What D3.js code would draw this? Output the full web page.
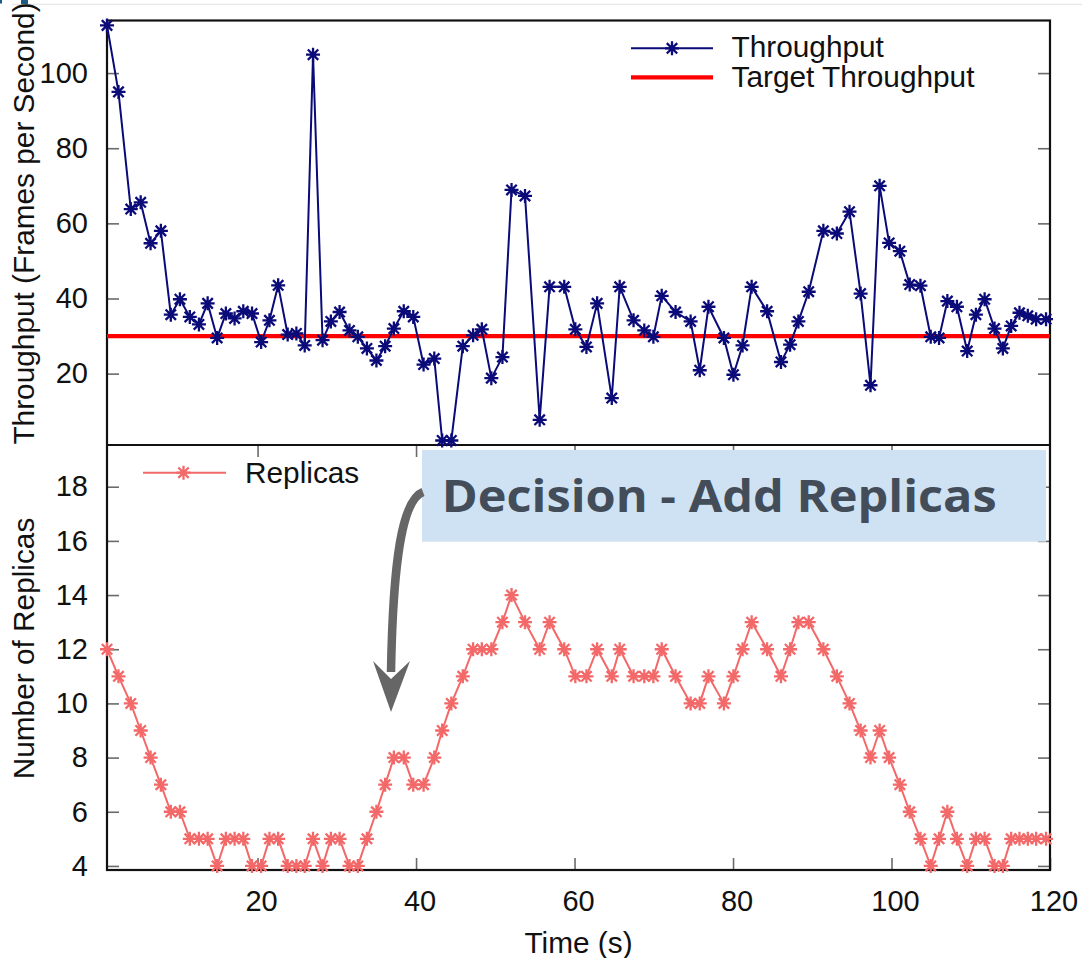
<!DOCTYPE html>
<html>
<head>
<meta charset="utf-8">
<script src="https://cdn.jsdelivr.net/npm/d3@7"></script>
<style>
  html, body { margin: 0; padding: 0; background: #fff; }
  svg { display: block; }
</style>
</head>
<body>
<svg id="chart" width="1082" height="958"></svg>
<script>
// ---------------- DATA ----------------
const times = [1, 2.45, 4, 5.25, 6.5, 7.8, 9.05, 10.2, 11.45, 12.6, 13.7, 14.9, 16, 17.1, 18.2, 19.3, 20.45, 21.5, 22.6, 23.8,
  24.9, 25.95, 27, 28.2, 29.25, 30.35, 31.6, 32.65, 33.8, 35, 36.1, 37.2, 38.45, 39.65, 40.95, 42.3, 43.3, 44.45, 45.9, 47.2,
  48.3, 49.5, 50.9, 52.05, 53.75, 55.6, 56.85, 58.7, 60.1, 61.5, 62.85, 64.7, 65.7, 67.45, 68.8, 69.95, 71, 72.75, 74.65, 75.8,
  76.9, 78.85, 80.05, 81.2, 82.35, 84.3, 86.05, 87.2, 88.25, 89.55, 91.4, 93.1, 94.7, 96.1, 97.35, 98.5, 99.7, 101.05, 102.3, 103.65,
  104.95, 106, 107.05, 108.25, 109.55, 110.65, 111.75, 113, 114.05, 115.1, 116.15, 117.2, 118.25, 119.5];

const throughput = [112.7, 95, 63.8, 65.6, 54.7, 58, 35.7, 39.8, 35.1, 33.1, 38.7, 29.5, 36, 34.7, 36.6, 36, 28.4, 34.2, 43.5, 30.4,
  30.7, 27.5, 104.9, 28.9, 33.9, 36.4, 31.5, 29.8, 26.7, 23.5, 27.3, 32, 36.6, 35.1, 22.4, 24, 2.2, 2.2, 27.3, 30.2,
  31.8, 18.8, 24.4, 68.9, 67.3, 7.7, 43.1, 43.1, 31.8, 27.1, 38.7, 13.5, 43.1, 34.2, 31.5, 29.8, 40.7, 36.4, 33.9, 20.9,
  37.8, 29.5, 19.7, 27.5, 43.1, 36.6, 23.1, 27.7, 33.9, 41.8, 58, 57.3, 63.1, 41.3, 16.9, 70, 54.8, 52.6, 43.7, 43.4,
  29.8, 29.5, 39.3, 37.8, 26, 35.7, 39.8, 32, 26.7, 32.7, 36.2, 35.4, 34.5, 34.5];

const replicas = [12, 11, 10, 9, 8, 7, 6, 6, 5, 5, 5, 4, 5, 5, 5, 4, 4, 5, 5, 4,
  4, 4, 5, 4, 5, 5, 4, 4, 5, 6, 7, 8, 8, 7, 7, 8, 9, 10, 11, 12,
  12, 12, 13, 14, 13, 12, 13, 12, 11, 11, 12, 11, 12, 11, 11, 11, 12, 11, 10, 10,
  11, 10, 11, 12, 13, 12, 11, 12, 13, 13, 12, 11, 10, 9, 8, 9, 8, 7, 6, 5,
  4, 5, 6, 5, 4, 5, 5, 4, 4, 5, 5, 5, 5, 5];

const targetThroughput = 30;

const xTicks = [20, 40, 60, 80, 100, 120];
const yTicksTop = [20, 40, 60, 80, 100];
const yTicksBottom = [4, 6, 8, 10, 12, 14, 16, 18];

const seriesNames = ["Throughput", "Target Throughput", "Replicas"];
const xTitle = "Time (s)";
const yTitleTop = "Throughput (Frames per Second)";
const yTitleBottom = "Number of Replicas";
const annotationText = "Decision - Add Replicas";

// ---------------- LAYOUT ----------------
const L = 107, R = 1050, T = 20.5, M = 445, B = 870;
const FONT = "'Liberation Sans', Arial, Helvetica, sans-serif";
const FS = 29;      // tick labels
const FS2 = 29.8;   // titles & legend
const navy = "#0a0a78";
const salmon = "#f36868";
const red = "#ff0000";
const tickColor = "#6a6a6a";

const svg = d3.select("#chart");
svg.append("rect").attr("width", 1082).attr("height", 958).attr("fill", "#fff");

// slide artefacts at top
svg.append("line").attr("x1", 12).attr("x2", 1082).attr("y1", 4.3).attr("y2", 4.3)
  .attr("stroke", "#e2e2e2").attr("stroke-width", 1);
svg.append("rect").attr("x", 0).attr("y", 0).attr("width", 2).attr("height", 3.5).attr("fill", "#1f5b87");
svg.append("rect").attr("x", 21).attr("y", 0).attr("width", 7).attr("height", 4).attr("fill", "#1f5b87");

const x = d3.scaleLinear().domain([1, 120]).range([L, R]);
const yTop = d3.scaleLinear().domain([1, 114]).range([M, T]);
const yBot = d3.scaleLinear().domain([3.85, 19.54]).range([B, M]);

function styleAxis(g, showLabels) {
  g.select(".domain").remove();
  g.selectAll(".tick line").attr("stroke", tickColor).attr("stroke-width", 1.6);
  g.selectAll(".tick text").attr("font-family", FONT).attr("font-size", FS).attr("fill", "#111");
  if (!showLabels) g.selectAll(".tick text").remove();
}

// top panel axes
svg.append("g").attr("transform", `translate(${L},0)`)
  .call(d3.axisLeft(yTop).tickValues(yTicksTop).tickSize(-12).tickPadding(19))
  .call(g => styleAxis(g, true));
svg.append("g").attr("transform", `translate(${R},0)`)
  .call(d3.axisRight(yTop).tickValues(yTicksTop).tickSize(-12))
  .call(g => styleAxis(g, false));

// bottom panel axes
svg.append("g").attr("transform", `translate(${L},0)`)
  .call(d3.axisLeft(yBot).tickValues(yTicksBottom).tickSize(-12).tickPadding(19))
  .call(g => styleAxis(g, true));
svg.append("g").attr("transform", `translate(${R},0)`)
  .call(d3.axisRight(yBot).tickValues(yTicksBottom).tickSize(-12))
  .call(g => styleAxis(g, false));
const xb = svg.append("g").attr("transform", `translate(0,${B})`)
  .call(d3.axisBottom(x).tickValues(xTicks).tickSize(-12).tickPadding(20))
  .call(g => styleAxis(g, true));
xb.selectAll(".tick text").attr("dx", 3.5);
svg.append("g").attr("transform", `translate(0,${M})`)
  .call(d3.axisTop(x).tickValues(xTicks.filter(v => v < 120)).tickSize(-12))
  .call(g => styleAxis(g, false));

// frames
svg.append("rect").attr("x", L).attr("y", T).attr("width", R - L).attr("height", B - T)
  .attr("fill", "none").attr("stroke", "#111").attr("stroke-width", 2.2);
svg.append("line").attr("x1", L).attr("x2", R).attr("y1", M).attr("y2", M)
  .attr("stroke", "#111").attr("stroke-width", 2.2);

// star marker
const star = "M-7,0H7M0,-7V7M-5.2,-5.2L5.2,5.2M-5.2,5.2L5.2,-5.2";
const MSW = 2.3;

// target line
svg.append("line").attr("x1", L).attr("x2", R)
  .attr("y1", yTop(targetThroughput)).attr("y2", yTop(targetThroughput))
  .attr("stroke", red).attr("stroke-width", 4.2);

// throughput series
const tpData = times.map((t, i) => ({ t, v: throughput[i] }));
svg.append("path").datum(tpData)
  .attr("fill", "none").attr("stroke", navy).attr("stroke-width", 2)
  .attr("d", d3.line().x(d => x(d.t)).y(d => yTop(d.v)));
svg.append("g").selectAll("path").data(tpData).join("path")
  .attr("d", star).attr("transform", d => `translate(${x(d.t)},${yTop(d.v)})`)
  .attr("stroke", navy).attr("stroke-width", MSW).attr("fill", "none");

// replicas series
const rpData = times.map((t, i) => ({ t, v: replicas[i] }));
svg.append("path").datum(rpData)
  .attr("fill", "none").attr("stroke", salmon).attr("stroke-width", 2)
  .attr("d", d3.line().x(d => x(d.t)).y(d => yBot(d.v)));
svg.append("g").selectAll("path").data(rpData).join("path")
  .attr("d", star).attr("transform", d => `translate(${x(d.t)},${yBot(d.v)})`)
  .attr("stroke", salmon).attr("stroke-width", MSW).attr("fill", "none");

// legends
const lg = svg.append("g");
lg.append("line").attr("x1", 631).attr("x2", 713).attr("y1", 48.3).attr("y2", 48.3)
  .attr("stroke", navy).attr("stroke-width", 2);
lg.append("path").attr("d", star).attr("transform", "translate(672,48.3)")
  .attr("stroke", navy).attr("stroke-width", MSW).attr("fill", "none");
lg.append("line").attr("x1", 631).attr("x2", 713).attr("y1", 77.3).attr("y2", 77.3)
  .attr("stroke", red).attr("stroke-width", 4.2);
lg.append("text").attr("x", 731.5).attr("y", 56.7).text(seriesNames[0])
  .attr("font-family", FONT).attr("font-size", FS2).attr("fill", "#111");
lg.append("text").attr("x", 731.5).attr("y", 87.3).text(seriesNames[1])
  .attr("font-family", FONT).attr("font-size", FS2).attr("fill", "#111");

lg.append("line").attr("x1", 143).attr("x2", 226).attr("y1", 472.7).attr("y2", 472.7)
  .attr("stroke", salmon).attr("stroke-width", 2);
lg.append("path").attr("d", star).attr("transform", "translate(183.5,472.7)")
  .attr("stroke", salmon).attr("stroke-width", MSW).attr("fill", "none");
lg.append("text").attr("x", 245).attr("y", 482.7).text(seriesNames[2])
  .attr("font-family", FONT).attr("font-size", FS2).attr("fill", "#111");

// axis titles
svg.append("text").attr("transform", "translate(34,223.5) rotate(-90)")
  .attr("text-anchor", "middle").attr("font-family", FONT).attr("font-size", FS2).attr("fill", "#111")
  .text(yTitleTop);
svg.append("text").attr("transform", "translate(34,648.5) rotate(-90)")
  .attr("text-anchor", "middle").attr("font-family", FONT).attr("font-size", FS2).attr("fill", "#111")
  .text(yTitleBottom);
svg.append("text").attr("x", (L + R) / 2).attr("y", 953)
  .attr("text-anchor", "middle").attr("font-family", FONT).attr("font-size", FS2).attr("fill", "#111")
  .text(xTitle);

// annotation
const ann = svg.append("g");
ann.append("rect").attr("x", 422).attr("y", 450).attr("width", 624).attr("height", 91.7)
  .attr("fill", "#cfe2f3");
ann.append("text").attr("x", 441.7).attr("y", 511.7)
  .attr("font-family", "'Open Sans', 'Noto Sans', sans-serif").attr("font-weight", 700)
  .attr("font-size", 45).attr("fill", "#434d59")
  .attr("textLength", 555).attr("lengthAdjust", "spacingAndGlyphs")
  .text(annotationText);
ann.append("path").attr("d", "M423,492 C402,500 393,560 391,672")
  .attr("fill", "none").attr("stroke", "#666").attr("stroke-width", 8.5);
ann.append("path").attr("d", "M373,661 L391,712 L410,661 L391,679 Z")
  .attr("fill", "#666");
</script>
</body>
</html>
